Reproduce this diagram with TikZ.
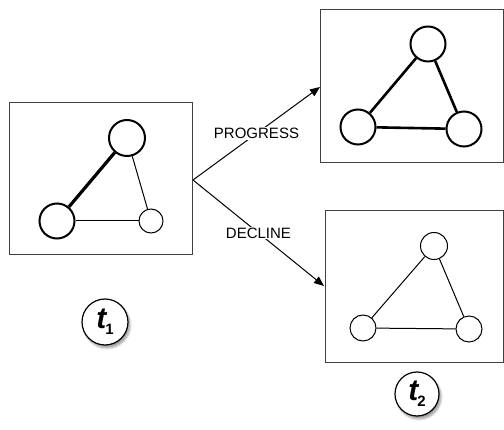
\documentclass[tikz,border=0pt]{standalone}
\usepackage{fontspec}
\setmainfont{Liberation Sans}
\usetikzlibrary{arrows.meta,shadows.blur}
\begin{document}
\begin{tikzpicture}[x=1pt,y=-1pt,
  frame/.style={draw=black!75,line width=1pt},
  vtx/.style={circle,draw,fill=white,inner sep=0pt},
  arr/.style={-{Triangle[length=10pt,width=8pt]},line width=1pt},
  lbl/.style={fill=white,inner sep=1pt,font=\fontsize{15}{17}\selectfont},
  tnode/.style={circle,draw,line width=1.2pt,fill=white,minimum size=46pt,inner sep=0pt,
    blur shadow={shadow xshift=2pt,shadow yshift=-3pt,shadow blur steps=8,shadow opacity=40},
    font=\fontsize{30}{32}\selectfont\bfseries\itshape}
]
\useasboundingbox (0,0) rectangle (504,430);
% boxes
\node[frame,minimum width=183pt,minimum height=152pt,inner sep=0pt] (b1) at (101,179) {};
\node[frame,minimum width=183pt,minimum height=153pt,inner sep=0pt] (b2) at (411.5,86.5) {};
\node[frame,minimum width=178pt,minimum height=152pt,inner sep=0pt] (b3) at (414,287) {};
% left graph
\node[vtx,line width=2pt,minimum size=36pt] (a1) at (127,138) {};
\node[vtx,line width=2pt,minimum size=35pt] (a2) at (57,221) {};
\node[vtx,line width=1pt,minimum size=24pt] (a3) at (151,221) {};
\draw[line width=3.2pt] (a1) -- (a2);
\draw[line width=1pt] (a1) -- (a3);
\draw[line width=1pt] (a2) -- (a3);
% top right graph
\node[vtx,line width=2pt,minimum size=35pt] (p1) at (428,44) {};
\node[vtx,line width=2pt,minimum size=35pt] (p2) at (358,127) {};
\node[vtx,line width=2pt,minimum size=35pt] (p3) at (464,129) {};
\draw[line width=2.6pt] (p1) -- (p2);
\draw[line width=2.6pt] (p1) -- (p3);
\draw[line width=2.6pt] (p2) -- (p3);
% bottom right graph
\node[vtx,line width=1pt,minimum size=27pt] (d1) at (434,246) {};
\node[vtx,line width=1pt,minimum size=26pt] (d2) at (363,328) {};
\node[vtx,line width=1pt,minimum size=26pt] (d3) at (469,329) {};
\draw[line width=1pt] (d1) -- (d2);
\draw[line width=1pt] (d1) -- (d3);
\draw[line width=1pt] (d2) -- (d3);
% arrows
\coordinate (s) at (193,180);
\coordinate (e1) at (320,87);
\coordinate (e2) at (324,286);
\draw[arr] (s) -- node[lbl,pos=0.5] (lp) {PROGRESS} (e1);
\draw[arr] (s) -- node[lbl,pos=0.5] (ld) {DECLINE} (e2);
% time labels
\node[tnode] (t1) at (105,322) {t\kern-1pt\raisebox{-0.4ex}{\upshape\fontsize{15}{15}\selectfont 1}};
\node[tnode,minimum size=44pt] (t2) at (417,394) {t\kern-1pt\raisebox{-0.4ex}{\upshape\fontsize{15}{15}\selectfont 2}};
\end{tikzpicture}
\end{document}
